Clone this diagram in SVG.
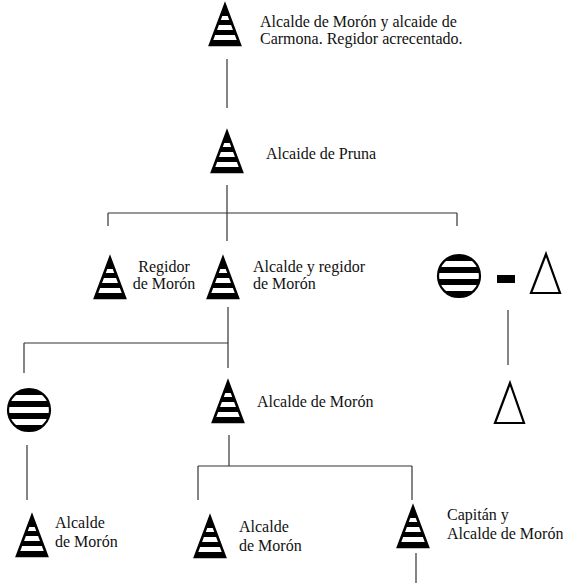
<svg xmlns="http://www.w3.org/2000/svg" width="563" height="583" viewBox="0 0 563 583">
<style>
  text { font-family: "Liberation Serif", "Times New Roman", "DejaVu Serif", serif; font-size: 16px; fill: #111; }
  .mid { text-anchor: middle; }
  #connectors line { stroke: #333; stroke-width: 1.2; fill: none; }
  .outline { fill: #fff; stroke: #000; stroke-width: 2.2; stroke-linejoin: miter; }
</style>
<defs>
  <clipPath id="coneClip">
    <path d="M15,0 L30,40 L0,40 Z"/>
  </clipPath>
  <clipPath id="circClip">
    <circle cx="0" cy="0" r="21"/>
  </clipPath>
  <g id="cone">
    <path d="M15,0 L30,40 L0,40 Z" fill="#fff"/>
    <g clip-path="url(#coneClip)" fill="#000">
      <rect x="0" y="0" width="30" height="11"/>
      <rect x="0" y="15" width="30" height="5"/>
      <rect x="0" y="25" width="30" height="5"/>
      <rect x="0" y="35" width="30" height="5"/>
    </g>
    <path d="M15,0 L30,40 L0,40 Z" fill="none" stroke="#000" stroke-width="2.6"/>
  </g>
  <g id="stripedCircle">
    <circle cx="0" cy="0" r="21" fill="#fff"/>
    <g clip-path="url(#circClip)" fill="#000">
      <rect x="-21" y="-21" width="42" height="6"/>
      <rect x="-21" y="-9" width="42" height="6"/>
      <rect x="-21" y="3" width="42" height="6"/>
      <rect x="-21" y="15" width="42" height="6"/>
    </g>
    <circle cx="0" cy="0" r="21" fill="none" stroke="#000" stroke-width="2.2"/>
  </g>
</defs>

<g id="connectors">
  <line x1="227" y1="59" x2="227" y2="108"/>
  <line x1="227" y1="185" x2="227" y2="241"/>
  <line x1="108" y1="213" x2="457" y2="213"/>
  <line x1="108" y1="213" x2="108" y2="226"/>
  <line x1="457" y1="213" x2="457" y2="226"/>
  <line x1="228" y1="307" x2="228" y2="368"/>
  <line x1="24" y1="343" x2="228" y2="343"/>
  <line x1="24" y1="343" x2="24" y2="373"/>
  <line x1="27" y1="445" x2="27" y2="500"/>
  <line x1="508" y1="310" x2="508" y2="365"/>
  <line x1="229" y1="435" x2="229" y2="466"/>
  <line x1="198" y1="466" x2="412" y2="466"/>
  <line x1="198" y1="466" x2="198" y2="500"/>
  <line x1="412" y1="466" x2="412" y2="500"/>
  <line x1="416" y1="553" x2="416" y2="583"/>
</g>

<g font-family="'Liberation Serif', 'Times New Roman', 'DejaVu Serif', serif" font-size="16">
<g id="n1">
  <use href="#cone" transform="translate(210,5)"/>
  <text x="260" y="27">Alcalde de Morón y alcaide de</text>
  <text x="260" y="44">Carmona. Regidor acrecentado.</text>
</g>

<g id="n2">
  <use href="#cone" transform="translate(212,132)"/>
  <text x="266" y="159">Alcaide de Pruna</text>
</g>

<g id="n3">
  <use href="#cone" transform="translate(95,258)"/>
  <text class="mid" x="164" y="272">Regidor</text>
  <text class="mid" x="164" y="289">de Morón</text>
</g>

<g id="n4">
  <use href="#cone" transform="translate(208,258)"/>
  <text x="253" y="272">Alcalde y regidor</text>
  <text x="253" y="289">de Morón</text>
</g>

<g id="n5">
  <use href="#stripedCircle" transform="translate(459,276)"/>
  <rect x="497" y="275" width="18" height="8" fill="#000"/>
  <path class="outline" d="M546,254 L560,293 L531,293 Z"/>
</g>

<g id="n6">
  <path class="outline" d="M510,383 L524,423 L495,423 Z"/>
</g>

<g id="n7">
  <use href="#stripedCircle" transform="translate(29,410)"/>
</g>

<g id="n8">
  <use href="#cone" transform="translate(213,382)"/>
  <text x="257" y="407">Alcalde de Morón</text>
</g>

<g id="n9">
  <use href="#cone" transform="translate(17,516)"/>
  <text x="55" y="528">Alcalde</text>
  <text x="55" y="547">de Morón</text>
</g>

<g id="n10">
  <use href="#cone" transform="translate(195,517)"/>
  <text x="239" y="532">Alcalde</text>
  <text x="239" y="551">de Morón</text>
</g>

<g id="n11">
  <use href="#cone" transform="translate(398,507)"/>
  <text x="447" y="520">Capitán y</text>
  <text x="447" y="539">Alcalde de Morón</text>
</g>
</g>
</svg>
